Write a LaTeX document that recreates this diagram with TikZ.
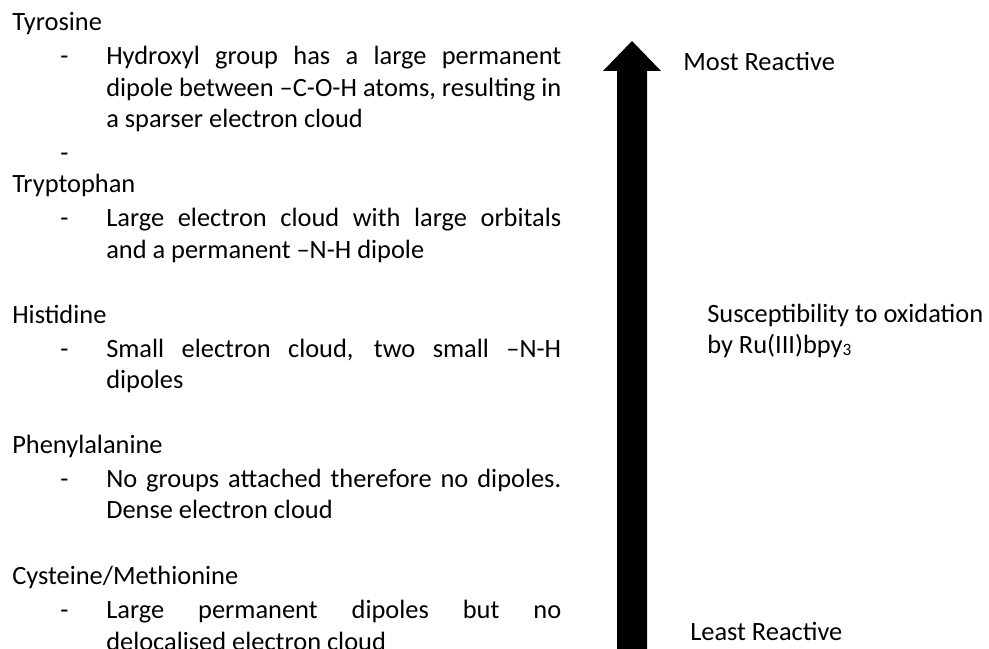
\documentclass[tikz,border=0pt]{standalone}
\usepackage{fontspec}
\setmainfont{Carlito}
\begin{document}
\begin{tikzpicture}[x=0.75pt,y=-0.75pt,
  txt/.style={anchor=base west, inner sep=0pt, font=\fontsize{19.8}{23}\selectfont},
  arrowfill/.style={fill=black}]
\useasboundingbox (0,0) rectangle (989,649);
\fill[white] (0,0) rectangle (989,649);
\clip (0,0) rectangle (989,649);
\newcommand{\jline}[1]{\makebox[341.25pt][s]{#1}}
% headings
\node[txt] (h1) at (12,31) {Tyrosine};
\node[txt] (h2) at (12,193) {Tryptophan};
\node[txt] (h3) at (12,323) {Histidine};
\node[txt] (h4) at (12,453) {Phenylalanine};
\node[txt] (h5) at (12,584) {Cysteine/Methionine};
% dashes
\node[txt] (d1) at (60,65) {-};
\node[txt] (d1b) at (60,162) {-};
\node[txt] (d2) at (60,227) {-};
\node[txt] (d3) at (60,357) {-};
\node[txt] (d4) at (60,487) {-};
\node[txt] (d5) at (60,618) {-};
% item lines
\node[txt] (l1a) at (106,65) {\jline{Hydroxyl group has a large permanent}};
\node[txt] (l1b) at (106,96.5) {\jline{dipole between –C-O-H atoms, resulting in}};
\node[txt] (l1c) at (106,128) {a sparser electron cloud};
\node[txt] (l2a) at (106,227) {\jline{Large electron cloud with large orbitals}};
\node[txt] (l2b) at (106,258) {and a permanent –N-H dipole};
\node[txt] (l3a) at (106,357) {\jline{Small electron cloud, two small –N-H}};
\node[txt] (l3b) at (106,388) {dipoles};
\node[txt] (l4a) at (106,487) {\jline{No groups attached therefore no dipoles.}};
\node[txt] (l4b) at (106,518) {Dense electron cloud};
\node[txt] (l5a) at (106,618) {\jline{Large permanent dipoles but no}};
\node[txt] (l5b) at (106,650) {delocalised electron cloud};
% arrow
\coordinate (tip) at (632,41);
\fill[arrowfill] (617,660) -- (617,71) -- (603,71) -- (tip) -- (661,71) -- (647,71) -- (647,660) -- cycle;
% right labels
\node[txt] (most) at (683,71) {Most Reactive};
\node[txt] (sus1) at (707,322) {Susceptibility to oxidation};
\node[txt] (sus2) at (707,353) {by Ru(III)bpy{\fontsize{13}{13}\selectfont\raisebox{-1.5pt}{3}}};
\node[txt] (least) at (690,640) {Least Reactive};
\end{tikzpicture}
\end{document}
